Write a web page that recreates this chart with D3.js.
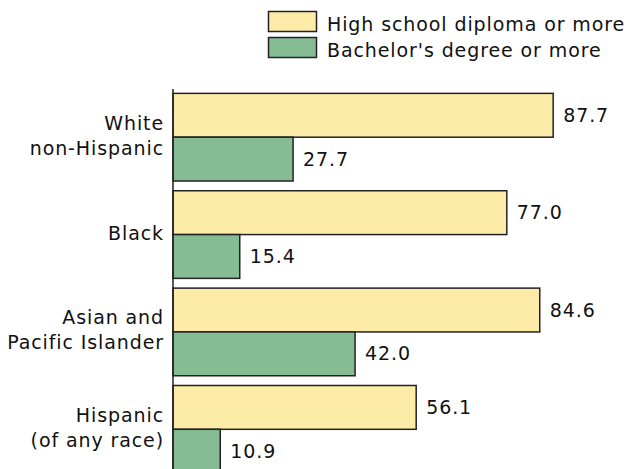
<!DOCTYPE html>
<html><head><meta charset="utf-8">
<script src="https://cdn.jsdelivr.net/npm/d3@7"></script>
<style>body{margin:0;background:#fff}svg{display:block}text{font-family:"DejaVu Sans",sans-serif;font-size:19px;letter-spacing:0.9px;fill:#111}</style>
</head><body>
<svg id="c" width="629" height="469"></svg>
<script>
const categories = [["White","non-Hispanic"],["Black"],["Asian and","Pacific Islander"],["Hispanic","(of any race)"]];
const seriesNames = ["High school diploma or more","Bachelor's degree or more"];
const highSchool = [87.7, 77.0, 84.6, 56.1];
const bachelors = [27.7, 15.4, 42.0, 10.9];
const colors = ["#fdeba8","#85bc93"];

const svg = d3.select("#c");
const x0 = 173;
const x = d3.scaleLinear().domain([0,100]).range([x0, x0+433.5]);
const yg = d3.scaleBand().domain(d3.range(categories.length)).range([88.5, 478]).paddingInner(0.1).paddingOuter(0.05);
const ys = d3.scaleBand().domain([0,1]).range([0, yg.bandwidth()]);

const data = categories.map((c,i)=>({c, vals:[highSchool[i], bachelors[i]]}));

const g = svg.selectAll("g.grp").data(data).join("g").attr("class","grp")
  .attr("transform",(d,i)=>`translate(0,${yg(i)})`);

g.selectAll("rect").data(d=>d.vals).join("rect")
  .attr("x", x(0)).attr("y",(v,j)=>ys(j))
  .attr("width", v=>x(v)-x(0)).attr("height", ys.bandwidth())
  .attr("fill",(v,j)=>colors[j]).attr("stroke","#222").attr("stroke-width",1.5);

g.selectAll("text.val").data(d=>d.vals).join("text").attr("class","val")
  .attr("x", v=>x(v)+10).attr("y",(v,j)=>ys(j)+ys.bandwidth()/2+6.5)
  .text(v=>v.toFixed(1));

g.each(function(d){
  const n = d.c.length;
  d3.select(this).selectAll("text.cat").data(d.c).join("text").attr("class","cat")
    .attr("x",164).attr("text-anchor","end")
    .attr("y",(t,i)=>yg.bandwidth()/2 + 5 + (i-(n-1)/2)*25)
    .text(t=>t);
});

svg.append("line").attr("x1",x0).attr("x2",x0).attr("y1",89).attr("y2",469)
  .attr("stroke","#222").attr("stroke-width",1.5);

const lg = svg.append("g");
seriesNames.forEach((s,i)=>{
  lg.append("rect").attr("x",268.5).attr("y",11.5+i*26).attr("width",48).attr("height",20)
    .attr("fill",colors[i]).attr("stroke","#222").attr("stroke-width",1.5);
  lg.append("text").attr("x",327).attr("y",31+i*25.5).text(s);
});
</script>
</body></html>
